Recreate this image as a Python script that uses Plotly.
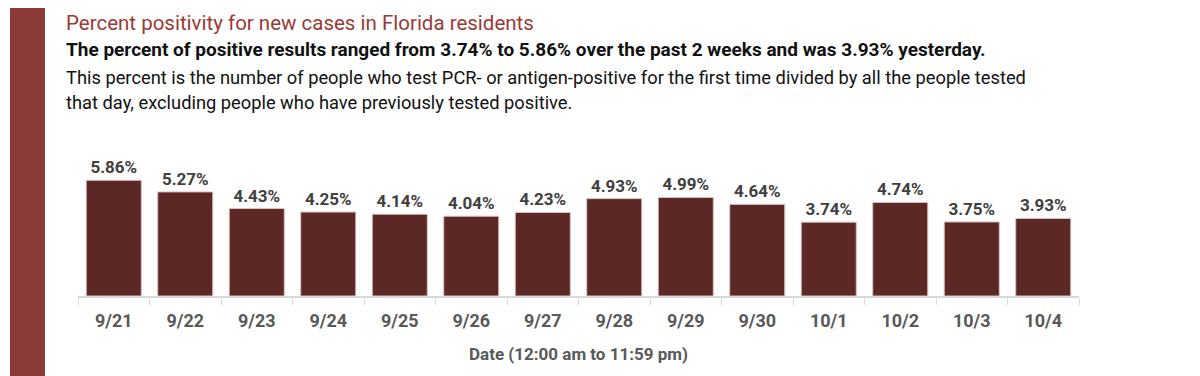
import plotly.graph_objects as go

dates = ["9/21", "9/22", "9/23", "9/24", "9/25", "9/26", "9/27",
         "9/28", "9/29", "9/30", "10/1", "10/2", "10/3", "10/4"]
positivity = [5.86, 5.27, 4.43, 4.25, 4.14, 4.04, 4.23,
              4.93, 4.99, 4.64, 3.74, 4.74, 3.75, 3.93]

title_text = "Percent positivity for new cases in Florida residents"
subtitle_text = "The percent of positive results ranged from 3.74% to 5.86% over the past 2 weeks and was 3.93% yesterday."
body_lines = ["This percent is the number of people who test PCR- or antigen-positive for the first time divided by all the people tested",
              "that day, excluding people who have previously tested positive."]
x_title = "Date (12:00 am to 11:59 pm)"

FONT = "Roboto, Arial"

fig = go.Figure(go.Bar(
    x=dates, y=positivity,
    marker=dict(color="#5c2825", line=dict(color="#d9c4c2", width=1)),
    text=[f"{v:.2f}%" for v in positivity],
    textposition="outside",
    textfont=dict(family=FONT, size=17, color="#404040", weight="bold"),
    cliponaxis=False,
    hoverinfo="skip",
))

fig.update_layout(
    width=1200, height=376,
    margin=dict(l=70, r=129, t=130, b=88),
    paper_bgcolor="white", plot_bgcolor="white",
    bargap=0.23,
    showlegend=False,
    font=dict(family=FONT),
    xaxis=dict(
        type="category",
        showline=True, linecolor="#d9d9d9", linewidth=1.5,
        ticks="outside", tickson="boundaries", ticklen=7, tickcolor="#d9d9d9",
        ticklabelstandoff=8,
        tickfont=dict(family=FONT, size=18, color="#595959", weight="bold"),
        title=dict(text=x_title, font=dict(family=FONT, size=17, color="#595959", weight="bold"), standoff=18),
        showgrid=False,
    ),
    yaxis=dict(range=[0, 8], visible=False, showgrid=False),
)

# left decorative band
fig.add_shape(type="rect", xref="paper", yref="paper",
              x0=(10 - 78) / 1001, x1=(45 - 78) / 1001,
              y0=-90 / 158, y1=(296) / 158,
              fillcolor="#8c3a38", line=dict(width=0), layer="above")

def px_y(y):
    # convert page pixel y to paper coordinate
    return (296 - y) / 158

fig.add_annotation(text=title_text, xref="paper", yref="paper",
                   x=(64 - 78) / 1001, y=px_y(23), xanchor="left", yanchor="middle",
                   showarrow=False, font=dict(family=FONT, size=20.5, color="#9a3a35"))
fig.add_annotation(text="<b>" + subtitle_text + "</b>", xref="paper", yref="paper",
                   x=(64 - 78) / 1001, y=px_y(50), xanchor="left", yanchor="middle",
                   showarrow=False, font=dict(family=FONT, size=19, color="#111111"))
for i, line in enumerate(body_lines):
    fig.add_annotation(text=line, xref="paper", yref="paper",
                       x=(64 - 78) / 1001, y=px_y(77 + 26 * i), xanchor="left", yanchor="middle",
                       showarrow=False, font=dict(family=FONT, size=18.3, color="#111111"))

fig.write_html("out.html")
